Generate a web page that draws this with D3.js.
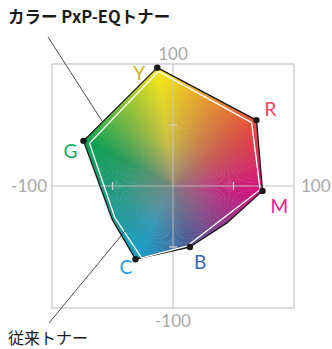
<!DOCTYPE html>
<html>
<head>
<meta charset="utf-8">
<title>PxP-EQ toner gamut</title>
<script src="https://cdn.jsdelivr.net/npm/d3@7"></script>
<style>
  body { margin: 0; background: #fff; }
</style>
</head>
<body>
<script>
// a*b* plane, outer = PxP-EQ toner, inner = conventional toner
var names = ["Y", "R", "M", "B", "C", "G"];
var nameColors = ["#c6b21c", "#ee4560", "#e5208c", "#3b63b4", "#1ca4e2", "#13b05c"];
// outer polygon (with two corner points between named colours)
var eqA = [-13, 69, 74, 45, 14, -31, -50, -74];
var eqB = [97, 54, -4, -30, -50, -60, -28, 37];
var eqNamed = [0, 1, 2, 4, 5, 7]; // which points carry a dot / name
// conventional toner polygon
var oldA = [-12, 65, 72, 12, -26, -48, -69];
var oldB = [94, 52, -3, -49, -59, -26, 35];
// hue anchors for the fill (angle in degrees)
var hueAngles = [97, 38, -3, -74, -117, 153];
var hueColors = ["#f4e41c", "#e94c3a", "#e2007f", "#3a4c9e", "#00a6da", "#00a651"];
var axisTicks = [-50, 50];

var W = 332, H = 349;
var svg = d3.select("body").append("svg").attr("width", W).attr("height", H);

var x = d3.scaleLinear().domain([-100, 100]).range([52, 294]);
var y = d3.scaleLinear().domain([-100, 100]).range([308, 64]);

// frame and axes
svg.append("rect")
   .attr("x", x(-100)).attr("y", y(100))
   .attr("width", x(100) - x(-100)).attr("height", y(-100) - y(100))
   .attr("fill", "none").attr("stroke", "#cfcfcf").attr("stroke-width", 1.5);
svg.append("line").attr("x1", x(-100)).attr("x2", x(100)).attr("y1", y(0)).attr("y2", y(0))
   .attr("stroke", "#c4c4c4").attr("stroke-width", 1.2);
svg.append("line").attr("x1", x(0)).attr("x2", x(0)).attr("y1", y(100)).attr("y2", y(-100))
   .attr("stroke", "#c4c4c4").attr("stroke-width", 1.2);

// gradient fill clipped to the outer polygon
var outerPts = eqA.map(function (a, i) { return [x(a), y(eqB[i])]; });
var innerPts = oldA.map(function (a, i) { return [x(a), y(oldB[i])]; });
var line = d3.line().curve(d3.curveLinearClosed);

var defs = svg.append("defs");
defs.append("clipPath").attr("id", "gamut").append("path").attr("d", line(outerPts));
var rg = defs.append("radialGradient").attr("id", "grey")
   .attr("gradientUnits", "userSpaceOnUse")
   .attr("cx", x(0)).attr("cy", y(0)).attr("r", x(90) - x(0));
rg.append("stop").attr("offset", 0).attr("stop-color", "#7f7a78").attr("stop-opacity", 0.85);
rg.append("stop").attr("offset", 0.4).attr("stop-color", "#7f7a78").attr("stop-opacity", 0.35);
rg.append("stop").attr("offset", 1).attr("stop-color", "#7f7a78").attr("stop-opacity", 0);

// colour at an angle, interpolated between hue anchors
var anchors = hueAngles.map(function (a, i) { return { a: (a + 360) % 360, c: hueColors[i] }; })
   .sort(function (p, q) { return p.a - q.a; });
function hueAt(deg) {
  for (var i = 0; i < anchors.length; i++) {
    var p = anchors[i], q = anchors[(i + 1) % anchors.length];
    var qa = q.a <= p.a ? q.a + 360 : q.a;
    var d = deg < p.a ? deg + 360 : deg;
    if (d >= p.a && d <= qa) return d3.interpolateRgb(p.c, q.c)((d - p.a) / (qa - p.a));
  }
  return anchors[0].c;
}

var g = svg.append("g").attr("clip-path", "url(#gamut)");
var steps = d3.range(0, 360, 1);
var R = 200;
g.selectAll("path.wedge").data(steps).enter().append("path")
   .attr("class", "wedge")
   .attr("d", function (deg) {
     var a0 = (deg - 0.7) * Math.PI / 180, a1 = (deg + 0.7) * Math.PI / 180;
     return line([[x(0), y(0)],
                  [x(R * Math.cos(a0)), y(R * Math.sin(a0))],
                  [x(R * Math.cos(a1)), y(R * Math.sin(a1))]]);
   })
   .attr("fill", function (deg) { return hueAt(deg); });
g.append("circle").attr("cx", x(0)).attr("cy", y(0)).attr("r", x(100) - x(0))
   .attr("fill", "url(#grey)");

// axes drawn faintly over the fill
g.append("line").attr("x1", x(-100)).attr("x2", x(100)).attr("y1", y(0)).attr("y2", y(0))
   .attr("stroke", "#c8c8c8").attr("stroke-opacity", 0.8).attr("stroke-width", 1);
g.append("line").attr("x1", x(0)).attr("x2", x(0)).attr("y1", y(100)).attr("y2", y(-100))
   .attr("stroke", "#c8c8c8").attr("stroke-opacity", 0.8).attr("stroke-width", 1);

// tick marks
svg.selectAll("line.tx").data(axisTicks).enter().append("line")
   .attr("x1", function (d) { return x(d); }).attr("x2", function (d) { return x(d); })
   .attr("y1", y(0) - 4).attr("y2", y(0) + 4)
   .attr("stroke", "#d0d0d0").attr("stroke-width", 1.2);
svg.selectAll("line.ty").data(axisTicks).enter().append("line")
   .attr("y1", function (d) { return y(d); }).attr("y2", function (d) { return y(d); })
   .attr("x1", x(0) - 4).attr("x2", x(0) + 4)
   .attr("stroke", "#d0d0d0").attr("stroke-width", 1.2);

// outlines
svg.append("path").attr("d", line(outerPts))
   .attr("fill", "none").attr("stroke", "#1a1a1a").attr("stroke-width", 1.3)
   .attr("stroke-linejoin", "round");
svg.append("path").attr("d", line(innerPts))
   .attr("fill", "none").attr("stroke", "#ffffff").attr("stroke-width", 1.3)
   .attr("stroke-linejoin", "round");

// dots
svg.selectAll("circle.dot").data(eqNamed).enter().append("circle")
   .attr("cx", function (i) { return x(eqA[i]); })
   .attr("cy", function (i) { return y(eqB[i]); })
   .attr("r", 3.2).attr("fill", "#1a1a1a");

// colour names
var nameDx = [-24, 8, 8, 4, -16, -20];
var nameDy = [12, -4, 22, 22, 15, 17];
svg.selectAll("text.nm").data(eqNamed).enter().append("text")
   .attr("x", function (i, k) { return x(eqA[i]) + nameDx[k]; })
   .attr("y", function (i, k) { return y(eqB[i]) + nameDy[k]; })
   .attr("fill", function (i, k) { return nameColors[k]; })
   .attr("font-family", "Lato, 'Noto Sans', sans-serif")
   .attr("font-size", 19)
   .text(function (i, k) { return names[k]; });

// axis value labels
var lbl = svg.append("g").attr("font-family", "Lato, 'Noto Sans', sans-serif")
   .attr("font-size", 17).attr("fill", "#a9a9a9");
lbl.append("text").attr("x", x(0)).attr("y", y(100) - 4).attr("text-anchor", "middle").text("100");
lbl.append("text").attr("x", x(0)).attr("y", y(-100) + 19).attr("text-anchor", "middle").text("-100");
lbl.append("text").attr("x", x(-100) - 5).attr("y", y(0) + 6).attr("text-anchor", "end").text("-100");
lbl.append("text").attr("x", x(100) + 7).attr("y", y(0) + 6).attr("text-anchor", "start").text("100");

// callouts
svg.append("line").attr("x1", 48).attr("y1", 37).attr("x2", 102).attr("y2", 121)
   .attr("stroke", "#222").attr("stroke-width", 0.8);
svg.append("line").attr("x1", 49).attr("y1", 323).attr("x2", 125).attr("y2", 231)
   .attr("stroke", "#222").attr("stroke-width", 0.8);

svg.append("text").attr("x", 8).attr("y", 23)
   .attr("font-family", "'Noto Sans CJK JP', sans-serif").attr("font-weight", "bold")
   .attr("font-size", 16.5).attr("fill", "#1a1a1a")
   .text("カラー PxP-EQトナー");
svg.append("text").attr("x", 8).attr("y", 344)
   .attr("font-family", "'Noto Sans CJK JP', sans-serif")
   .attr("font-size", 16).attr("fill", "#1a1a1a")
   .text("従来トナー");
</script>
</body>
</html>
